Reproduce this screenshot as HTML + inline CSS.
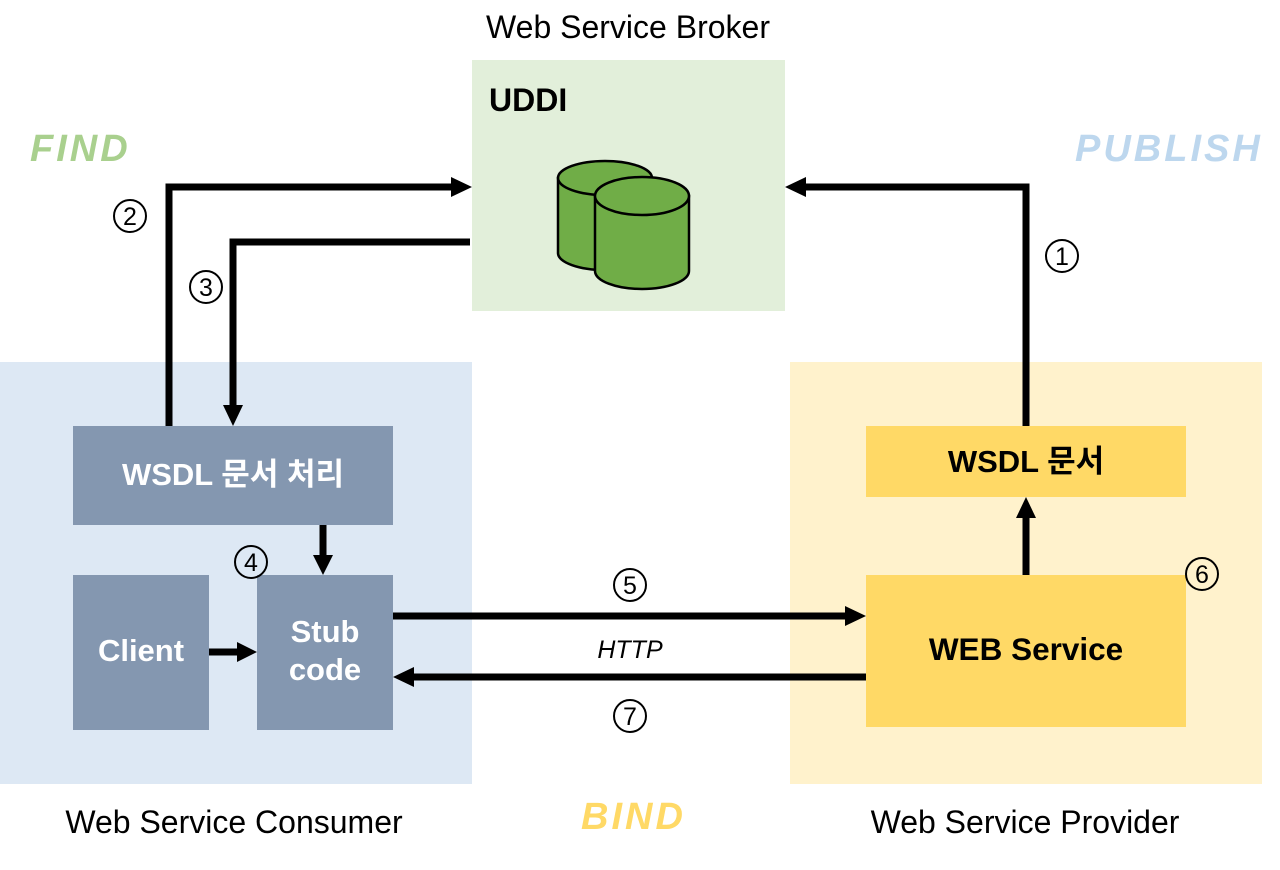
<!DOCTYPE html>
<html><head><meta charset="utf-8"><style>
html,body{margin:0;padding:0;background:#fff;width:1280px;height:870px;overflow:hidden}
svg text{font-family:"Liberation Sans","Noto Sans CJK KR",sans-serif}
</style></head><body>
<svg width="1280" height="870" viewBox="0 0 1280 870" xmlns="http://www.w3.org/2000/svg">
<rect x="472" y="60" width="313" height="251" fill="#e2efda"/>
<rect x="0" y="362" width="472" height="422" fill="#dde8f4"/>
<rect x="790" y="362" width="472" height="422" fill="#fff2cc"/>
<text x="628" y="38" font-size="32" text-anchor="middle" fill="#000">Web Service Broker</text>
<text x="234" y="833" font-size="32" text-anchor="middle" fill="#000">Web Service Consumer</text>
<text x="1025" y="833" font-size="32" text-anchor="middle" fill="#000">Web Service Provider</text>
<text x="30" y="161" font-size="38" font-weight="bold" font-style="italic" letter-spacing="3" fill="#a9d08e">FIND</text>
<text x="1075" y="161" font-size="38" font-weight="bold" font-style="italic" letter-spacing="3" fill="#bdd7ee">PUBLISH</text>
<text x="581" y="829" font-size="38" font-weight="bold" font-style="italic" letter-spacing="3" fill="#ffd966">BIND</text>
<text x="489" y="111" font-size="32" font-weight="bold" fill="#000">UDDI</text>
<g stroke="#000" stroke-width="2.5" fill="#70ad47">
<path d="M558 178 L558 253 A47 17 0 0 0 652 253 L652 178 Z"/>
<ellipse cx="605" cy="178" rx="47" ry="17"/>
<path d="M595 196 L595 271 A47 18 0 0 0 689 271 L689 196 Z"/>
<ellipse cx="642" cy="196" rx="47" ry="19"/>
</g>
<rect x="73" y="426" width="320" height="99" fill="#8497b0"/>
<text x="233" y="485" font-size="31" font-weight="bold" fill="#fff" text-anchor="middle">WSDL 문서 처리</text>
<rect x="73" y="575" width="136" height="155" fill="#8497b0"/>
<text x="141" y="661" font-size="31" font-weight="bold" fill="#fff" text-anchor="middle">Client</text>
<rect x="257" y="575" width="136" height="155" fill="#8497b0"/>
<text x="325" y="642" font-size="31" font-weight="bold" fill="#fff" text-anchor="middle">Stub</text>
<text x="325" y="680" font-size="31" font-weight="bold" fill="#fff" text-anchor="middle">code</text>
<rect x="866" y="426" width="320" height="71" fill="#ffd966"/>
<text x="1026" y="472" font-size="31" font-weight="bold" fill="#000" text-anchor="middle">WSDL 문서</text>
<rect x="866" y="575" width="320" height="152" fill="#ffd966"/>
<text x="1026" y="660" font-size="31.5" font-weight="bold" fill="#000" text-anchor="middle">WEB Service</text>
<g stroke="#000" stroke-width="7" fill="none">
<polyline points="169,426 169,187 452,187"/>
<polyline points="470,242 233,242 233,408"/>
<polyline points="1026,426 1026,187 805,187"/>
<line x1="323" y1="525" x2="323" y2="558"/>
<line x1="209" y1="652" x2="240" y2="652"/>
<line x1="393" y1="616" x2="848" y2="616"/>
<line x1="866" y1="677" x2="412" y2="677"/>
<line x1="1026" y1="575" x2="1026" y2="515"/>
</g>
<g fill="#000">
<polygon points="472,187 451,177 451,197"/>
<polygon points="233,426 223,405 243,405"/>
<polygon points="785,187 806,177 806,197"/>
<polygon points="323,575 313,555 333,555"/>
<polygon points="257,652 237,642 237,662"/>
<polygon points="866,616 845,606 845,626"/>
<polygon points="393,677 414,667 414,687"/>
<polygon points="1026,497 1016,518 1036,518"/>
</g>
<g fill="none" stroke="#000" stroke-width="2">
<circle cx="130" cy="216" r="16"/>
<circle cx="206" cy="287" r="16"/>
<circle cx="1062" cy="256" r="16"/>
<circle cx="251" cy="562" r="16"/>
<circle cx="630" cy="585" r="16"/>
<circle cx="1202" cy="574" r="16"/>
<circle cx="630" cy="716" r="16"/>
</g>
<g font-size="25" fill="#000" text-anchor="middle">
<text x="130" y="225">2</text>
<text x="206" y="296">3</text>
<text x="1062" y="265">1</text>
<text x="251" y="571">4</text>
<text x="630" y="594">5</text>
<text x="1202" y="583">6</text>
<text x="630" y="725">7</text>
</g>
<text x="630" y="658" font-size="25" font-style="italic" fill="#000" text-anchor="middle">HTTP</text>
</svg>
</body></html>
